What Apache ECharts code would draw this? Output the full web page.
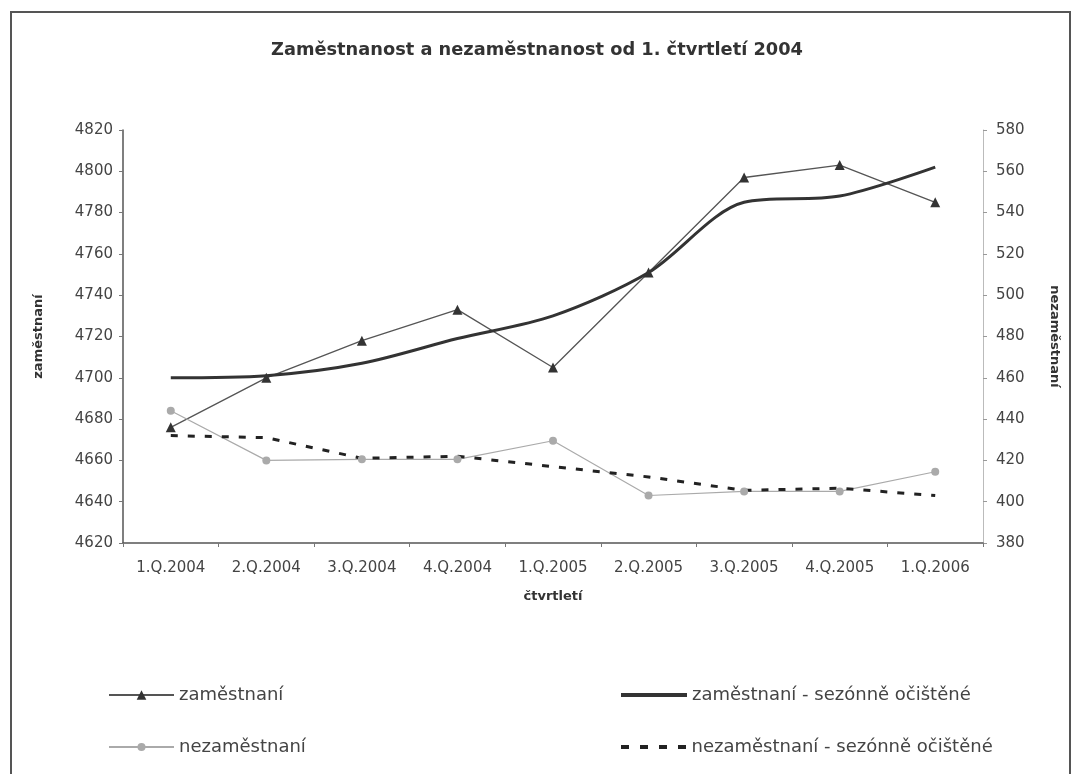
<!DOCTYPE html>
<html>
<head>
<meta charset="utf-8">
<script src="https://cdn.jsdelivr.net/npm/echarts@6/dist/echarts.min.js"></script>
<style>
  html, body { margin: 0; padding: 0; background: #fff; }
  #chart { width: 1074px; height: 774px; }
</style>
</head>
<body>
<div id="chart"></div>
<script>
const quarters = ['1.Q.2004', '2.Q.2004', '3.Q.2004', '4.Q.2004', '1.Q.2005', '2.Q.2005', '3.Q.2005', '4.Q.2005', '1.Q.2006']
const employed = [4676, 4700, 4718, 4733, 4705, 4751, 4797, 4803, 4785]
const employedSa = [4700, 4701, 4707, 4719, 4730, 4751, 4785, 4788, 4802]
const unemployed = [444, 420, 420.5, 420.5, 429.5, 403, 405, 405, 414.5]
const unemployedSa = [432, 431, 421, 422, 417, 412, 405.5, 406.5, 403]

const myChart = echarts.init(document.getElementById('chart'))
const font = 'DejaVu Sans, sans-serif'
const legendText = { fontSize: 18, color: '#444', fontFamily: font }
// dashed legend icon for the seasonally adjusted unemployment
const dashIcon = 'path://M0,0h8v4h-8zM19,0h8v4h-8zM38,0h8v4h-8zM57,0h8v4h-8z'

const option = {
  animation: false,
  backgroundColor: '#fff',
  textStyle: { fontFamily: font },
  title: {
    text: 'Zaměstnanost a nezaměstnanost od 1. čtvrtletí 2004',
    left: 'center',
    top: 36,
    textStyle: { fontSize: 17.8, fontWeight: 'bold', color: '#333', fontFamily: font }
  },
  graphic: [
    {
      type: 'polyline',
      shape: { points: [[11, 774], [11, 12], [1070, 12], [1070, 774]] },
      style: { stroke: '#555', lineWidth: 2, fill: null }
    }
  ],
  legend: [
    {
      left: 103, top: 681, itemWidth: 65, itemHeight: 12, itemGap: 10,
      textStyle: legendText,
      data: ['zaměstnaní']
    },
    {
      left: 103, top: 733, itemWidth: 65, itemHeight: 10,
      textStyle: legendText,
      data: ['nezaměstnaní']
    },
    {
      left: 616, top: 681, itemWidth: 66, itemHeight: 4,
      textStyle: legendText,
      data: [{ name: 'zaměstnaní - sezónně očištěné', icon: 'rect' }]
    },
    {
      left: 616, top: 733, itemWidth: 66, itemHeight: 4,
      textStyle: legendText,
      data: [{ name: 'nezaměstnaní - sezónně očištěné', icon: dashIcon }]
    }
  ],
  grid: { left: 123, right: 91, top: 130, bottom: 231 },
  xAxis: {
    type: 'category',
    data: quarters,
    boundaryGap: true,
    name: 'čtvrtletí',
    nameLocation: 'middle',
    nameGap: 47,
    nameTextStyle: { fontSize: 13, fontWeight: 'bold', color: '#333' },
    axisLine: { lineStyle: { color: '#555', width: 1.5 } },
    axisTick: { show: true, length: 4, lineStyle: { color: '#777' } },
    axisLabel: { fontSize: 15, color: '#444', margin: 18 }
  },
  yAxis: [
    {
      type: 'value',
      min: 4620, max: 4820, interval: 20,
      name: 'zaměstnaní',
      nameLocation: 'middle',
      nameGap: 78,
      nameTextStyle: { fontSize: 13, fontWeight: 'bold', color: '#333' },
      axisLine: { show: true, lineStyle: { color: '#555', width: 1.5 } },
      axisTick: { show: true, length: 4, lineStyle: { color: '#777' } },
      axisLabel: { fontSize: 15, color: '#444', margin: 10, formatter: v => String(v) },
      splitLine: { show: false }
    },
    {
      type: 'value',
      min: 380, max: 580, interval: 20,
      name: 'nezaměstnaní',
      nameLocation: 'middle',
      nameGap: 65,
      nameRotate: -90,
      nameTextStyle: { fontSize: 13, fontWeight: 'bold', color: '#333' },
      axisLine: { show: true, lineStyle: { color: '#bbb', width: 1 } },
      axisTick: { show: true, length: 4, lineStyle: { color: '#999' } },
      axisLabel: { fontSize: 15, color: '#444', margin: 13, formatter: v => String(v) },
      splitLine: { show: false }
    }
  ],
  series: [
    {
      name: 'zaměstnaní',
      type: 'line',
      yAxisIndex: 0,
      data: employed,
      symbol: 'triangle',
      symbolSize: 10,
      lineStyle: { color: '#555', width: 1.3 },
      itemStyle: { color: '#333' }
    },
    {
      name: 'zaměstnaní - sezónně očištěné',
      type: 'line',
      yAxisIndex: 0,
      data: employedSa,
      smooth: 0.3,
      symbol: 'none',
      lineStyle: { color: '#333', width: 3 },
      itemStyle: { color: '#333' }
    },
    {
      name: 'nezaměstnaní',
      type: 'line',
      yAxisIndex: 1,
      data: unemployed,
      symbol: 'circle',
      symbolSize: 8,
      lineStyle: { color: '#aaa', width: 1.2 },
      itemStyle: { color: '#aaa' }
    },
    {
      name: 'nezaměstnaní - sezónně očištěné',
      type: 'line',
      yAxisIndex: 1,
      data: unemployedSa,
      symbol: 'none',
      lineStyle: { color: '#222', width: 3, type: [7, 10] },
      itemStyle: { color: '#222' }
    }
  ]
}

myChart.setOption(option)

window.addEventListener('resize', () => {
  myChart.resize()
})
</script>
</body>
</html>
